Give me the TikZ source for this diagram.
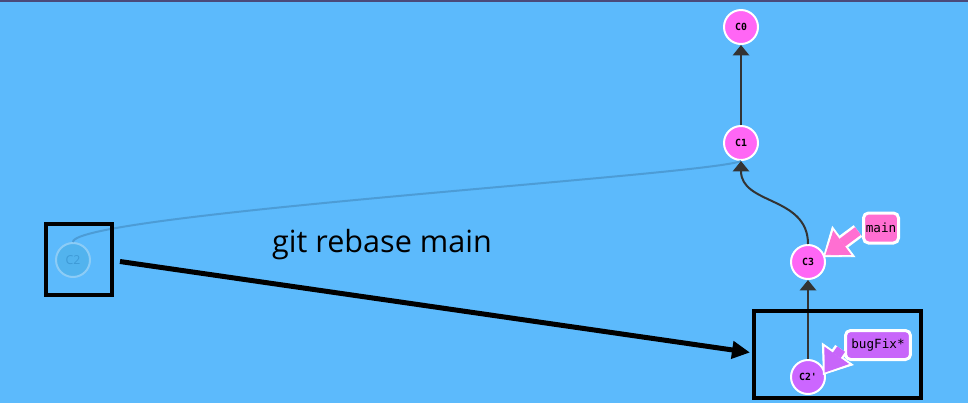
\documentclass[tikz,border=0pt]{standalone}
\usepackage{fontspec}
\setsansfont{Open Sans}
\setmonofont{DejaVu Sans Mono}
\usetikzlibrary{arrows.meta,calc}
\definecolor{sky}{HTML}{5CBAFC}
\definecolor{topbar}{HTML}{4B4A7A}
\definecolor{commitpink}{HTML}{FF66F5}
\definecolor{commitlilac}{HTML}{CC66FF}
\definecolor{tagpink}{HTML}{FF6FD2}
\definecolor{taglilac}{HTML}{C866FA}
\definecolor{edgegray}{HTML}{333333}
\definecolor{ghostfill}{HTML}{52B3EE}
\definecolor{ghostline}{HTML}{8CCCF6}
\definecolor{ghosttext}{HTML}{3E9AD6}
\definecolor{ghostedge}{HTML}{4C9CD6}

\begin{document}
\begin{tikzpicture}[
    x=0.02cm, y=-0.02cm,
    commit/.style = {circle, draw=white, line width=0.04cm, fill=commitpink,
                     minimum size=0.68cm, inner sep=0pt,
                     font=\ttfamily\bfseries\fontsize{5.6}{6}\selectfont},
    ghost/.style  = {commit, draw=ghostline, fill=ghostfill, text=ghosttext,
                     font=\sffamily\fontsize{7}{8}\selectfont},
    branch/.style = {draw=white, line width=0.06cm, rounded corners=0.1cm,
                     inner sep=0pt, font=\ttfamily\fontsize{7.2}{8}\selectfont},
    parent/.style = {draw=edgegray, line width=0.04cm,
                     -{Triangle[length=0.21cm,width=0.33cm]}},
    frame/.style  = {draw=black, line width=0.08cm, inner sep=0pt},
    tagout/.style = {draw=white, line width=0.29cm,
                     -{Triangle[length=0.52cm,width=0.78cm,line width=0.5pt]}},
    tagin/.style  = {line width=0.19cm,
                     -{Triangle[length=0.42cm,width=0.6cm,line width=0.5pt]}},
  ]

  % --- Background ------------------------------------------------------
  \fill[sky] (0,0) rectangle (968,403);
  \fill[topbar] (0,0) rectangle (968,2);
  \useasboundingbox (0,0) rectangle (968,403);

  % --- Commits ---------------------------------------------------------
  \node[commit] (c0) at (741,27)  {C0};
  \node[commit] (c1) at (741,143) {C1};
  \node[commit] (c3) at (808,262) {C3};
  \node[commit, fill=commitlilac] (c2p) at (808,377) {C2'};
  \node[ghost]  (c2) at (73,260)  {C2};

  % old parent link of C2, faded
  \draw[ghostedge, line width=0.04cm]
    (c2.north) .. controls +(0,-28) and +(-30,14) .. (c1.south);

  % --- Parent links ----------------------------------------------------
  \draw[parent] (c1.north) -- (c0.south);
  \draw[parent] (c3.north) .. controls +(0,-48) and +(0,44) .. (c1.south);
  \draw[parent] (c2p.north) -- (c3.south);

  % --- Branches --------------------------------------------------------
  \node[branch, fill=tagpink, minimum width=0.7cm, minimum height=0.6cm]
    (mainlbl) at (881,228) {main};
  \node[branch, fill=taglilac, minimum width=1.3cm, minimum height=0.58cm]
    (buglbl) at (878,345) {bugFix*};

  \draw[tagout, shorten <=0.1cm] (mainlbl.west) -- ($(c3.east)+(-3,-5)$);
  \draw[tagin, tagpink, shorten <=0.1cm, shorten >=0.06cm]
    (mainlbl.west) -- ($(c3.east)+(-3,-5)$);
  \draw[tagout, shorten <=0.1cm] (buglbl.west) -- ($(c2p.east)+(-3,-2)$);
  \draw[tagin, taglilac, shorten <=0.1cm, shorten >=0.06cm]
    (buglbl.west) -- ($(c2p.east)+(-3,-2)$);

  % --- Rebase annotation -----------------------------------------------
  \node[frame, minimum width=1.32cm, minimum height=1.42cm] (oldbox) at (79,259.5) {};
  \node[frame, minimum width=3.34cm, minimum height=1.74cm] (newbox) at (837.5,354.5) {};
  \draw[line width=0.1cm, -{Triangle[length=0.36cm,width=0.34cm]}]
    ($(oldbox.east)+(6,2)$) -- ($(newbox.west)+(-2,-2)$);
  \node[font=\sffamily\fontsize{17.4}{20}\selectfont, inner sep=0pt]
    (cmd) at (382,245) {git rebase main};

\end{tikzpicture}
\end{document}
